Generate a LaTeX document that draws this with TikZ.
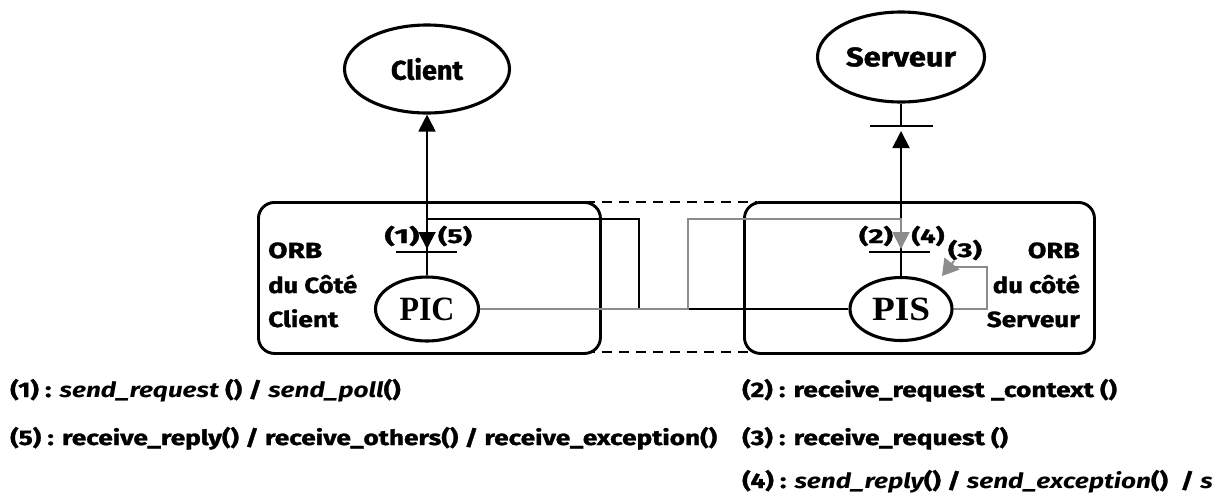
\documentclass[tikz,border=0pt]{standalone}
\usepackage{fontspec}
\usepackage{graphicx}
\newfontfamily\comic{Fira Sans}[BoldFeatures={FakeBold=1.2}]
\newfontfamily\procfont{Liberation Serif}
\usetikzlibrary{shapes.geometric,arrows.meta}
\definecolor{linkgray}{RGB}{140,140,140}
\newlength\natwidth
% scale #2 horizontally so that it is #1 pt wide
\newcommand\fitwidth[2]{%
  \settowidth\natwidth{#2}%
  \pgfmathsetmacro\fitratio{#1/\natwidth}%
  \scalebox{\fitratio}[1]{#2}}
\newcommand\legendfont{\comic\bfseries\fontsize{21}{25}\selectfont}
% legend lines share the horizontal scale of the longest one
\newcommand\legline[1]{%
  \settowidth\natwidth{(5) : receive\_reply() / receive\_others() / receive\_exception()}%
  \pgfmathsetmacro\legratio{707/\natwidth}%
  \scalebox{\legratio}[1]{#1}}
\begin{document}
\begin{tikzpicture}[x=1pt,y=-1pt,
  ell/.style={ellipse, draw, line width=3.1pt, inner sep=0pt, fill=white},
  orbbox/.style={draw, line width=2.9pt, rounded corners=16pt, fill=white,
    inner sep=0pt, anchor=north west},
  link/.style={line width=1.9pt},
  grlink/.style={line width=1.9pt, draw=linkgray},
  tip/.style={-{Triangle[length=17pt,width=17pt]}},
  bar/.style={line width=2.8pt},
  numlbl/.style={font=\comic\bfseries\fontsize{20}{22}\selectfont, inner sep=0pt},
  boxlbl/.style={font=\comic\bfseries\fontsize{22}{24}\selectfont, inner sep=0pt},
  actor/.style={font=\comic\bfseries\fontsize{27}{30}\selectfont},
  proc/.style={font=\procfont\bfseries\fontsize{34}{36}\selectfont},
  legend/.style={font=\legendfont, inner sep=0pt, anchor=base west}]

\useasboundingbox (0,0) rectangle (1228,498);
\fill[white] (0,0) rectangle (1228,498);

% the two ORB boxes and the dashed link between them
\coordinate (dl) at (585,202);
\coordinate (dr) at (757,202);
\coordinate (dl2) at (585,352);
\coordinate (dr2) at (757,352);
\draw[line width=2.8pt, dash pattern=on 10pt off 7pt] (dl) -- (dr);
\draw[line width=2.8pt, dash pattern=on 10pt off 7pt] (dl2) -- (dr2);
\node[orbbox, minimum width=342pt, minimum height=151pt] (L) at (257,201) {};
\node[orbbox, minimum width=350pt, minimum height=151pt] (R) at (743,201) {};

% box captions
\node[boxlbl, anchor=base west] (lo) at (268,258) {\fitwidth{54}{ORB}};
\node[boxlbl, anchor=base west] (ld) at (268,293) {\fitwidth{89}{du Côté}};
\node[boxlbl, anchor=base west] (lc) at (268,327) {\fitwidth{70}{Client}};
\node[boxlbl, anchor=base east] (ro) at (1080,258) {\fitwidth{52}{ORB}};
\node[boxlbl, anchor=base east] (rd) at (1080,293) {\fitwidth{87}{du côté}};
\node[boxlbl, anchor=base east] (rs) at (1080,327) {\fitwidth{93}{Serveur}};

% actors and interceptors
\node[ell, actor, minimum width=165pt, minimum height=88pt] (Client) at (427,69) {\fitwidth{72}{Client}};
\node[ell, actor, minimum width=167pt, minimum height=90pt] (Serveur) at (901,57) {\fitwidth{110}{Serveur}};
\node[ell, proc, minimum width=103pt, minimum height=64pt] (PIC) at (427,309) {\fitwidth{55}{PIC}};
\node[ell, proc, minimum width=102pt, minimum height=63pt] (PIS) at (901,309) {\fitwidth{58}{PIS}};

% interception points
\coordinate (cbar) at (427,252);
\coordinate (sbar) at (900,252);
\coordinate (tbar) at (901,126);
\draw[bar] ([xshift=-31pt]cbar) -- ([xshift=30pt]cbar);
\draw[bar] ([xshift=-31pt]sbar) -- ([xshift=30pt]sbar);
\draw[bar] ([xshift=-31pt]tbar) -- ([xshift=32pt]tbar);

% client side
\coordinate (cin) at (427,249);
\coordinate (b1) at (639,219);
\draw[link, tip] (PIC.north) -- (Client.south);
\draw[link, tip] (PIS.west) -| (b1) -| (cin);

% server side
\coordinate (sin) at (901,249);
\coordinate (sup) at (901,131);
\coordinate (g1) at (688,219);
\draw[link] (Serveur.south) -- (tbar);
\draw[link, tip] (PIS.north) -- (sup);
\draw[grlink, tip] (PIC.east) -| (g1) -| (sin);

% loop (3) back into the server interceptor
\coordinate (r3) at (987,267);
\coordinate (r3e) at (950,267);
\coordinate (a3s) at (954,261);
\coordinate (a3t) at (942,276);
\draw[grlink] (PIS.east) -| (r3) -- (r3e);
\draw[grlink, -{Triangle[length=16pt,width=19pt]}] (a3s) -- (a3t);

% numbers of the interception points
\node[numlbl] (n1) at (402,236) {\fitwidth{35}{(1)}};
\node[numlbl] (n5) at (455,236) {\fitwidth{34}{(5)}};
\node[numlbl] (n2) at (876,236) {\fitwidth{34}{(2)}};
\node[numlbl] (n4) at (928,236) {\fitwidth{33}{(4)}};
\node[numlbl] (n3) at (965,250) {\fitwidth{34}{(3)}};

% legend
\node[legend] (t1) at (10,397) {\legline{(1) : {\itshape send\_request} () / {\itshape send\_poll}()}};
\node[legend] (t5) at (10,445) {\legline{(5) : receive\_reply() / receive\_others() / receive\_exception()}};
\node[legend] (t2) at (742,397) {\legline{(2) : receive\_request \_context ()}};
\node[legend] (t3) at (742,445) {\legline{(3) : receive\_request ()}};
\node[legend] (t4) at (742,488) {\legline{(4) : {\itshape send\_reply}() / {\itshape send\_exception}() \ / {\itshape s}}};
\end{tikzpicture}
\end{document}
